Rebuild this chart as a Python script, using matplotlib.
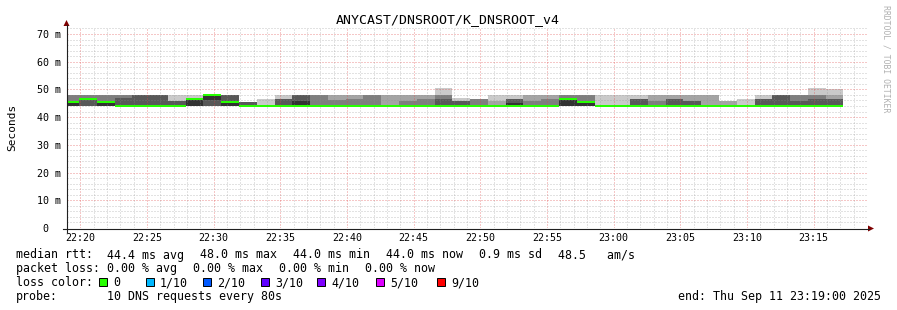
import numpy as np
import matplotlib.pyplot as plt
from matplotlib.patches import Rectangle, Polygon

title = "ANYCAST/DNSROOT/K_DNSROOT_v4"
view_start = "22:19:00"
view_end = "23:19:00"
first_step = "22:18:34"   # start of first 80 s step (partly outside the view)
step_sec = 80

# median rtt per step (ms)
median_ms = [45.5, 46.5, 45.5, 44.0, 44.0, 44.0, 44.0, 46.5, 48.0, 45.5,
             44.0, 44.0, 44.0, 44.0, 44.0, 44.0, 44.0, 44.0, 44.0, 44.0,
             44.0, 44.0, 44.0, 44.0, 44.0, 44.0, 44.0, 44.0, 46.5, 45.5,
             44.0, 44.0, 44.0, 44.0, 44.0, 44.0, 44.0, 44.0, 44.0, 44.0,
             44.0, 44.0, 44.0, 44.0]

# sorted ping times per step (10 DNS requests, ms)
pings_ms = [
    [44, 44, 44, 44, 44, 45.5, 45.5, 48, 48, 48],
    [44, 44, 44, 44, 44, 44, 46.5, 48, 48, 48],
    [44, 44, 44, 44, 44, 45.5, 45.5, 48, 48, 48],
    [44, 44, 44, 44, 44, 44, 46.9, 48, 48, 48],
    [44, 44, 44, 44, 44, 44, 48, 48, 48, 48],
    [44, 44, 44, 44, 44, 44, 48, 48, 48, 48],
    [44, 44, 44, 44, 44, 44, 45.9, 45.9, 45.9, 48],
    [44, 44, 44, 44, 44, 47, 47, 47, 47, 48],
    [44, 44, 44, 44, 46.3, 48, 48, 48, 48, 48],
    [44, 44, 44, 44, 44, 45.5, 48, 48, 48, 48],
    [44, 44, 44, 44, 44, 44, 45.6, 45.6, 45.6, 45.6],
    [44, 44, 44, 44, 44, 44, 44, 44, 44, 46.7],
    [44, 44, 44, 44, 44, 44, 46.6, 46.6, 46.6, 48],
    [44, 44, 44, 44, 44, 45.9, 48, 48, 48, 48],
    [44, 44, 44, 44, 44, 44, 44, 48, 48, 48],
    [44, 44, 44, 44, 44, 44, 44, 46.2, 48, 48],
    [44, 44, 44, 44, 44, 44, 44, 46.6, 48, 48],
    [44, 44, 44, 44, 44, 44, 44, 48, 48, 48],
    [44, 44, 44, 44, 44, 44, 44, 44, 48, 48],
    [44, 44, 44, 44, 44, 44, 44, 45.9, 48, 48],
    [44, 44, 44, 44, 44, 44, 44, 46.6, 48, 48],
    [44, 44, 44, 44, 44, 44, 46.6, 48, 48, 50.5],
    [44, 44, 44, 44, 44, 44, 45.7, 45.7, 45.7, 46.9],
    [44, 44, 44, 44, 44, 44, 44, 46.6, 46.6, 46.6],
    [44, 44, 44, 44, 44, 44, 44, 44, 45.9, 48],
    [44, 44, 44, 44, 44, 45.2, 46.6, 46.6, 46.6, 48],
    [44, 44, 44, 44, 44, 44, 44, 45.9, 48, 48],
    [44, 44, 44, 44, 44, 44, 44, 46.6, 48, 48],
    [44, 44, 44, 44, 44, 46.5, 46.5, 48, 48, 48],
    [44, 44, 44, 44, 44, 45.5, 45.5, 48, 48, 48],
    [44, 44, 44, 44, 44, 44, 44, 44, 44, 48],
    [44, 44, 44, 44, 44, 44, 44, 44, 44, 48],
    [44, 44, 44, 44, 44, 44, 46.6, 46.6, 46.6, 48],
    [44, 44, 44, 44, 44, 44, 44, 45.9, 48, 48],
    [44, 44, 44, 44, 44, 44, 46.6, 46.6, 48, 48],
    [44, 44, 44, 44, 44, 44, 45.9, 45.9, 48, 48],
    [44, 44, 44, 44, 44, 44, 44, 44, 48, 48],
    [44, 44, 44, 44, 44, 44, 44, 44, 45.7, 45.7],
    [44, 44, 44, 44, 44, 44, 44, 44, 44, 46.7],
    [44, 44, 44, 44, 44, 44, 46.6, 46.6, 46.6, 48],
    [44, 44, 44, 44, 44, 44, 48, 48, 48, 48],
    [44, 44, 44, 44, 44, 44, 45.9, 48, 48, 48],
    [44, 44, 44, 44, 44, 44, 46.6, 48, 48, 50.5],
    [44, 44, 44, 44, 44, 44, 46.6, 46.6, 48, 50.0],
]

smoke_grays = ["#cacaca", "#a4a4a4", "#7e7e7e", "#585858", "#323232"]
loss_labels = ["0", "1/10", "2/10", "3/10", "4/10", "5/10", "9/10"]
loss_colors = ["#26ff00", "#00b8ff", "#0059ff", "#5e00ff", "#7e00ff", "#dd00ff", "#ff0000"]

rtt_items = ["44.4 ms avg", "48.0 ms max", "44.0 ms min", "44.0 ms now", "0.9 ms sd", "48.5   am/s"]
loss_items = ["0.00 % avg", "0.00 % max", "0.00 % min", "0.00 % now"]
probe_text = "10 DNS requests every 80s"
end_text = "end: Thu Sep 11 23:19:00 2025"

y_top = 72.15
mono = "DejaVu Sans Mono"


def to_min(hms):
    h, m, s = (int(v) for v in hms.split(":"))
    return h * 60 + m + s / 60.0


W, H = 897, 310


def fx(x):
    return x / W


def fy(y):
    return 1 - y / H


t0 = to_min(view_start)
span = to_min(view_end) - t0
n = len(median_ms)
edges = to_min(first_step) - t0 + np.arange(n + 1) * step_sec / 60.0
p = np.array(pings_ms, dtype=float)

fig = plt.figure(figsize=(W / 100, H / 100), dpi=100)
ax = fig.add_axes([fx(67), fy(228), 800 / W, 200 / H])

# smoke: outer pair lightest, inner pair darkest
for k in range(5):
    lo = np.append(p[:, k], p[-1, k])
    hi = np.append(p[:, 9 - k], p[-1, 9 - k])
    ax.fill_between(edges, lo, hi, step="post", color=smoke_grays[k], lw=0, zorder=2)

med = np.append(median_ms, median_ms[-1])
ax.fill_between(edges, med - 0.3, med + 0.3, step="post", color=loss_colors[0], lw=0, zorder=3)

ax.set_xlim(0, span)
ax.set_ylim(0, y_top)

major_x = np.arange(1, span, 5)
ax.set_xticks(major_x)
ax.set_xticklabels(["%02d:%02d" % divmod(int(round(t0 + m)), 60) for m in major_x])
ax.set_xticks(np.arange(1, span, 1), minor=True)
major_y = np.arange(10, 71, 10)
ax.set_yticks(np.concatenate([[0], major_y]))
ax.set_yticklabels(["0  "] + ["%d m" % v for v in major_y])
ax.set_yticks(np.arange(2, y_top, 2), minor=True)

ax.tick_params(which="both", length=0, labelsize=7.2)
ax.tick_params(axis="x", pad=3.6)
ax.tick_params(axis="y", pad=4.2)
for lab in ax.get_xticklabels() + ax.get_yticklabels():
    lab.set_fontfamily(mono)

ax.set_axisbelow(False)
ax.grid(which="minor", color="#8f8f8f", alpha=0.5, lw=0.72, ls=(0, (1, 2)), zorder=4)
ax.grid(which="major", color="#de4848", alpha=0.6, lw=0.72, ls=(0, (1, 2)), zorder=4)
for g in ax.get_ygridlines():
    if g.get_ydata()[0] == 0:
        g.set_visible(False)
for s in ax.spines.values():
    s.set_visible(False)

# axes lines and arrows
fig.add_artist(plt.Line2D([fx(62.5), fx(869)], [fy(228.5), fy(228.5)], color="#202020", lw=0.8))
fig.add_artist(plt.Line2D([fx(66.5), fx(66.5)], [fy(232), fy(25)], color="#202020", lw=0.8))
fig.add_artist(Polygon([(fx(868), fy(225.5)), (fx(874), fy(228.5)), (fx(868), fy(231.5))],
                       closed=True, color="#7f0000", lw=0))
fig.add_artist(Polygon([(fx(63.5), fy(26)), (fx(66.5), fy(20)), (fx(69.5), fy(26))],
                       closed=True, color="#7f0000", lw=0))

fig.text(fx(448), fy(23), title, family=mono, fontsize=9.5, ha="center", va="baseline")
fig.text(fx(12), fy(127), "Seconds", family=mono, fontsize=8, rotation=90, ha="center", va="center")
fig.text(fx(886), fy(5), "RRDTOOL / TOBI OETIKER", family=mono, fontsize=5.9, rotation=270,
         ha="center", va="top", color="#b0b0b0")

# legend block: label column, tab stop, then items separated by 2 chars + 2 px
fs = 8.37
char_w = 7.0
tab_x = 107
base = 258.5
gap = 13.8


def legend_row(row, label, items):
    y = fy(base + row * gap)
    fig.text(fx(16), y, label, family=mono, fontsize=fs, va="baseline")
    x = tab_x
    for item in items:
        fig.text(fx(x), y, item, family=mono, fontsize=fs, va="baseline")
        x += len(item) * char_w + 2 * char_w + 2


legend_row(0, "median rtt:", rtt_items)
legend_row(1, "packet loss:", loss_items)
legend_row(2, "loss color:", [])
box_x = [99, 146, 203, 261, 317, 376, 437]
for bx, lab, col in zip(box_x, loss_labels, loss_colors):
    fig.add_artist(Rectangle((fx(bx), fy(base + 2 * gap)), 8 / W, 8 / H,
                             facecolor=col, edgecolor="black", lw=0.7))
    fig.text(fx(bx + 14), fy(base + 2 * gap), lab, family=mono, fontsize=fs, va="baseline")
legend_row(3, "probe:", [probe_text])
fig.text(fx(881), fy(base + 3 * gap), end_text, family=mono, fontsize=fs, va="baseline", ha="right")

fig.savefig("out.png", dpi=100, facecolor="white")
